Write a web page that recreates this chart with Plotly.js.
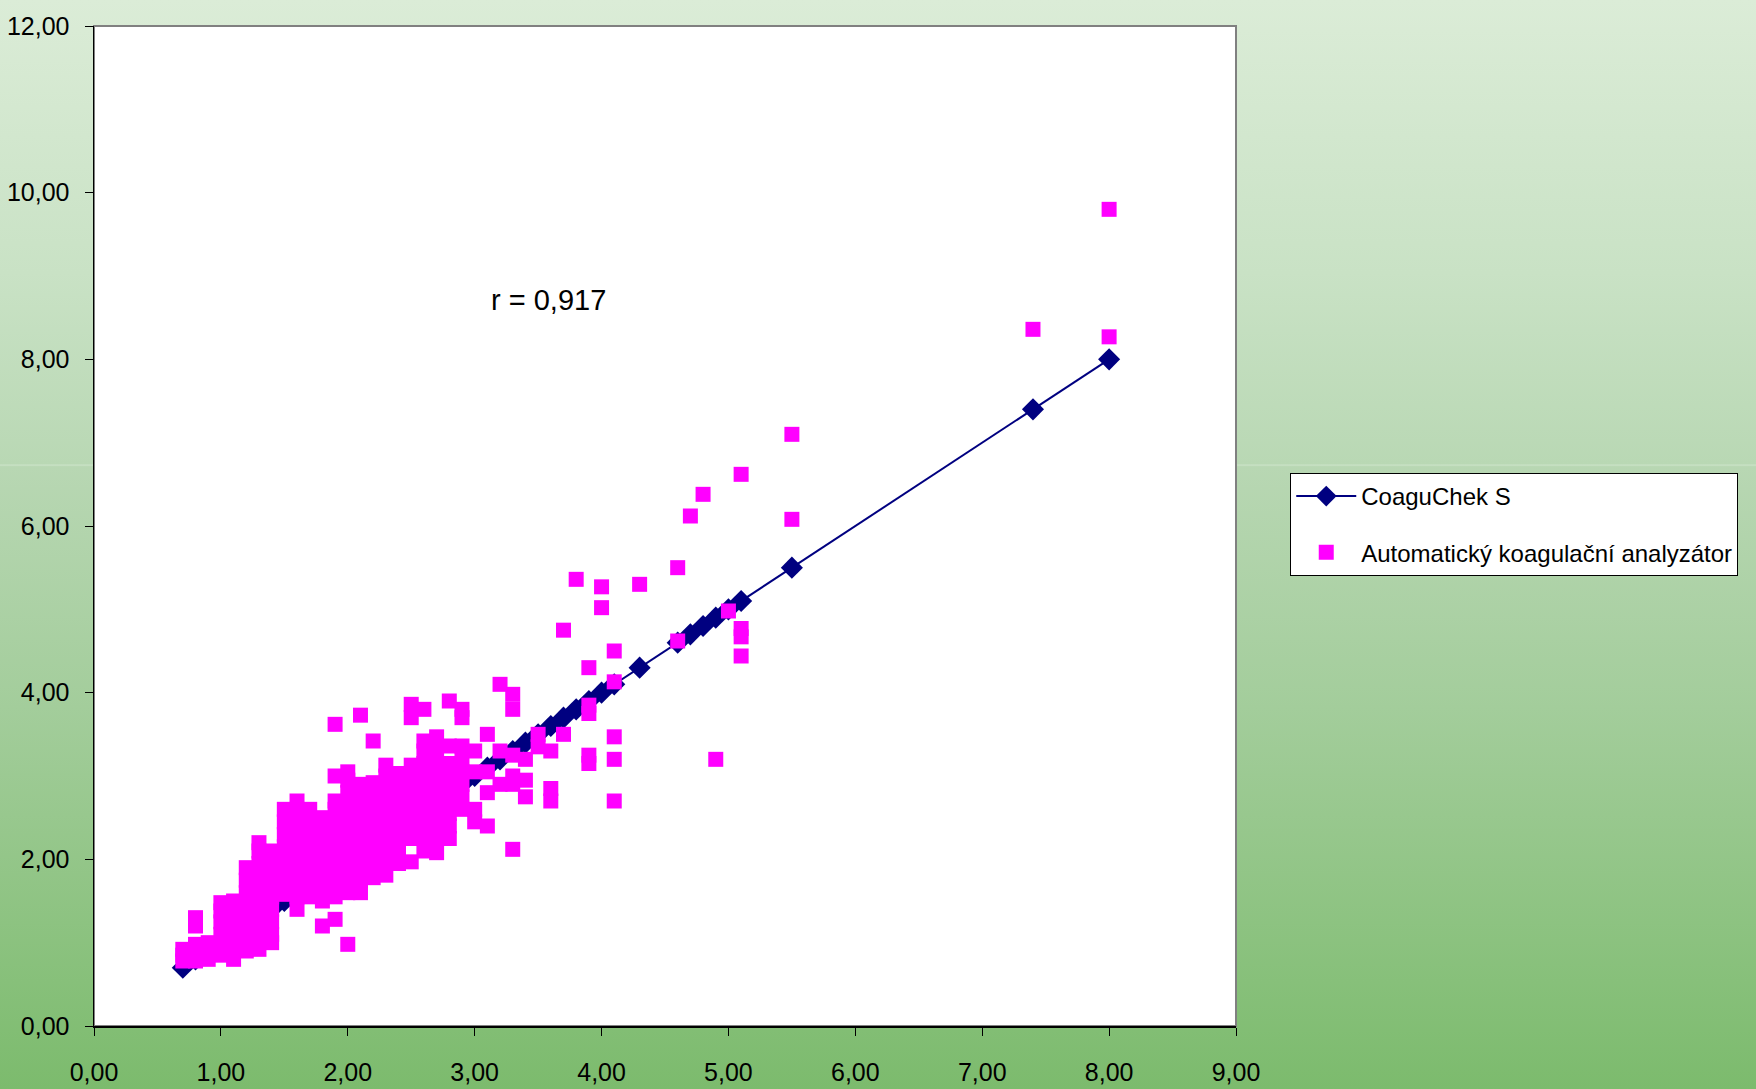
<!DOCTYPE html>
<html>
<head>
<meta charset="utf-8">
<script src="https://cdn.plot.ly/plotly-3.0.1.min.js"></script>
<style>
  html, body { margin: 0; padding: 0; }
  body {
    width: 1756px; height: 1089px; overflow: hidden;
    background: linear-gradient(to bottom, #dbecd7 0%, #c9e2c5 25%, #b9d8b4 42.6%, #cbe3c7 42.7%, #b8d7b3 42.85%, #a3cd9b 65%, #7cbb6d 100%);
  }
  #chart { width: 1756px; height: 1089px; }
</style>
</head>
<body>
<div id="chart"></div>
<script>
// CoaguChek S (line of identity through the measured values)
const coaguX = [0.7, 0.8, 0.9, 1.0, 1.1, 1.2, 1.3, 1.4, 1.5, 1.6, 1.7, 1.8, 1.9, 2.0, 2.1, 2.2, 2.3, 2.4, 2.5, 2.6, 2.7, 2.8, 2.9, 3.0, 3.1, 3.2, 3.3, 3.4, 3.5, 3.6, 3.7, 3.8, 3.9, 4.0, 4.1, 4.3, 4.6, 4.7, 4.8, 4.9, 5.0, 5.1, 5.5, 7.4, 8.0];
const coaguY = [0.7, 0.8, 0.9, 1.0, 1.1, 1.2, 1.3, 1.4, 1.5, 1.6, 1.7, 1.8, 1.9, 2.0, 2.1, 2.2, 2.3, 2.4, 2.5, 2.6, 2.7, 2.8, 2.9, 3.0, 3.1, 3.2, 3.3, 3.4, 3.5, 3.6, 3.7, 3.8, 3.9, 4.0, 4.1, 4.3, 4.6, 4.7, 4.8, 4.9, 5.0, 5.1, 5.5, 7.4, 8.0];

// Automatický koagulační analyzátor: x (CoaguChek value) and the analyser values read for it
const autoColX = [0.7, 0.8, 0.9, 1.0, 1.1, 1.2, 1.3, 1.4, 1.5, 1.6, 1.7, 1.8, 1.9, 2.0, 2.1, 2.2, 2.3, 2.4, 2.5, 2.6, 2.7, 2.8, 2.9, 3.0, 3.1, 3.2, 3.3, 3.4, 3.5, 3.6, 3.7, 3.8, 3.9, 4.0, 4.1, 4.3, 4.6, 4.7, 4.8, 4.9, 5.0, 5.1, 5.5, 7.4, 8.0];
const autoColY = [
  [0.78, 0.85, 0.92],
  [0.78, 0.88, 0.98, 1.2, 1.3],
  [0.8, 0.9, 1.0],
  [0.85, 0.98, 1.1, 1.25, 1.38, 1.48],
  [0.8, 0.95, 1.08, 1.2, 1.35, 1.5],
  [0.9, 1.02, 1.15, 1.3, 1.45, 1.6, 1.75, 1.9],
  [0.92, 1.05, 1.22, 1.35, 1.5, 1.65, 1.8, 1.95, 2.1, 2.2],
  [1.0, 1.1, 1.25, 1.4, 1.55, 1.7, 1.85, 2.0, 2.1],
  [1.58, 1.7, 1.85, 2.0, 2.15, 2.3, 2.45, 2.6],
  [1.4, 1.55, 1.7, 1.85, 2.0, 2.15, 2.3, 2.45, 2.6, 2.7],
  [1.55, 1.7, 1.85, 2.0, 2.15, 2.3, 2.45, 2.6],
  [1.2, 1.5, 1.65, 1.8, 1.95, 2.1, 2.25, 2.4, 2.5],
  [1.28, 1.55, 1.7, 1.85, 2.0, 2.15, 2.3, 2.45, 2.6, 2.7, 3.0, 3.62],
  [0.98, 1.6, 1.75, 1.9, 2.05, 2.2, 2.35, 2.5, 2.65, 2.8, 2.95, 3.05],
  [1.6, 1.75, 1.9, 2.05, 2.2, 2.35, 2.5, 2.65, 2.8, 2.9, 3.73],
  [1.78, 1.9, 2.05, 2.2, 2.35, 2.5, 2.65, 2.8, 2.92, 3.42],
  [1.81, 1.95, 2.1, 2.25, 2.4, 2.55, 2.7, 2.85, 3.0, 3.13],
  [1.95, 2.1, 2.25, 2.4, 2.55, 2.7, 2.85, 3.03],
  [1.97, 2.25, 2.4, 2.55, 2.7, 2.85, 3.0, 3.13, 3.7, 3.86],
  [2.1, 2.25, 2.4, 2.55, 2.7, 2.85, 3.0, 3.15, 3.3, 3.42, 3.8],
  [2.08, 2.25, 2.4, 2.55, 2.7, 2.85, 3.0, 3.15, 3.3, 3.47],
  [2.25, 2.4, 2.55, 2.7, 2.85, 3.0, 3.15, 3.36, 3.9],
  [2.6, 2.75, 2.9, 3.05, 3.2, 3.36, 3.7, 3.8],
  [2.45, 2.6, 3.05, 3.3],
  [2.4, 2.8, 3.05, 3.5],
  [2.9, 3.3, 4.1],
  [2.12, 2.9, 3.0, 3.25, 3.8, 3.98],
  [2.75, 2.95, 3.2],
  [3.35, 3.5],
  [2.7, 2.85, 3.3],
  [3.5, 4.75],
  [5.36],
  [3.15, 3.25, 3.75, 3.85, 4.3],
  [5.02, 5.27],
  [2.7, 3.2, 3.47, 4.13, 4.5],
  [5.3],
  [4.62, 5.5],
  [6.12],
  [6.38],
  [3.2],
  [4.98],
  [4.44, 4.67, 4.77, 6.62],
  [6.08, 7.1],
  [8.36],
  [8.27, 9.8]
];

const seriesNames = ['CoaguChek S', 'Automatický koagulační analyzátor'];
const xTickVals = [0, 1, 2, 3, 4, 5, 6, 7, 8, 9];
const yTickVals = [0, 2, 4, 6, 8, 10, 12];
const rLabel = 'r = 0,917';

// flatten analyser table
const autoX = [], autoY = [];
autoColX.forEach((x, i) => autoColY[i].forEach(y => { autoX.push(x); autoY.push(y); }));

const FONT = '"Liberation Sans", Arial, sans-serif';

const traces = [
  {
    type: 'scatter', mode: 'lines+markers', name: seriesNames[0],
    x: coaguX, y: coaguY, legendgroup: 'a',
    line: { color: '#000080', width: 2 },
    marker: { symbol: 'diamond', size: 17, color: '#000080', line: { width: 0 } }
  },
  {
    type: 'scatter', mode: 'markers', name: seriesNames[1],
    x: autoX, y: autoY, legendgroup: 'b',
    marker: { symbol: 'square', size: 15, color: '#FF00FF', line: { width: 0 } }
  }
];

const layout = {
  width: 1756, height: 1089,
  margin: { l: 94, r: 520, t: 26, b: 63, pad: 0 },
  paper_bgcolor: 'rgba(0,0,0,0)',
  plot_bgcolor: '#ffffff',
  separators: ', ',
  font: { family: FONT, size: 25, color: '#000000' },
  showlegend: true,
  xaxis: {
    range: [0, 9], tickvals: xTickVals, tickformat: '.2f',
    showgrid: false, zeroline: false,
    showline: true, linecolor: '#000000', linewidth: 1.5,
    ticks: 'outside', ticklen: 8, tickwidth: 1, tickcolor: '#000000',
    ticklabelstandoff: 15,
    tickfont: { family: FONT, size: 25, color: '#000000' }
  },
  yaxis: {
    range: [0, 12], tickvals: yTickVals, tickformat: '.2f',
    showgrid: false, zeroline: false,
    showline: true, linecolor: '#000000', linewidth: 1.5,
    ticks: 'outside', ticklen: 8, tickwidth: 1, tickcolor: '#000000',
    ticklabelstandoff: 10,
    tickfont: { family: FONT, size: 25, color: '#000000' }
  },
  shapes: [
    { type: 'rect', xref: 'paper', yref: 'paper', x0: 0, x1: 1, y0: 0, y1: 1,
      line: { color: '#808080', width: 2 }, fillcolor: 'rgba(0,0,0,0)', layer: 'below' }
  ],
  annotations: [
    { x: 3.58, y: 8.71, xref: 'x', yref: 'y', text: rLabel, showarrow: false,
      xanchor: 'center', yanchor: 'middle', font: { family: FONT, size: 29, color: '#000000' } }
  ],
  legend: {
    x: 1.0475, y: 0.553, xanchor: 'left', yanchor: 'top',
    bgcolor: '#ffffff', bordercolor: '#000000', borderwidth: 1,
    font: { family: FONT, size: 24, color: '#000000' },
    traceorder: 'grouped', tracegroupgap: 22, itemwidth: 60
  }
};

Plotly.newPlot('chart', traces, layout, { staticPlot: true, displayModeBar: false });
</script>
</body>
</html>
